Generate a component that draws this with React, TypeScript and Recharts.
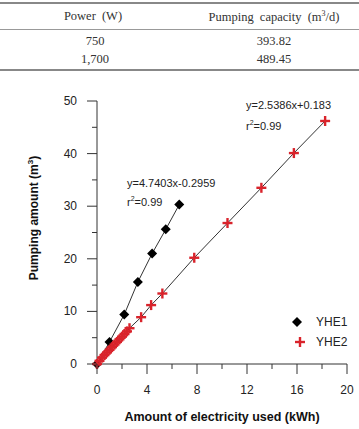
import { ScatterChart, Scatter, XAxis, YAxis } from "recharts";

// measured runs: energy used (kWh) vs pumped volume (m3)
const yhe1Energy = [0, 1.0, 2.18, 3.27, 4.41, 5.5, 6.58];
const yhe1Volume = [0, 4.2, 9.4, 15.6, 21.0, 25.6, 30.3];
const yhe2Energy = [0, 0.2, 0.4, 0.6, 0.8, 1.0, 1.2, 1.4, 1.6, 1.8, 2.0, 2.2, 2.4, 2.6, 3.53, 4.33, 5.23, 7.78, 10.44, 13.15, 15.75, 18.25];
const yhe2Volume = [0, 0.6, 1.2, 1.7, 2.2, 2.7, 3.2, 3.7, 4.2, 4.7, 5.2, 5.7, 6.2, 6.8, 8.9, 11.2, 13.4, 20.2, 26.8, 33.5, 40.1, 46.2];

const xTicks = [0, 2, 4, 6, 8, 10, 12, 14, 16, 18, 20];
const yTicks = [0, 5, 10, 15, 20, 25, 30, 35, 40, 45, 50];

const powerRows = ["750", "1,700"];
const capacityRows = ["393.82", "489.45"];

const yhe1 = yhe1Energy.map((x, i) => ({ x, y: yhe1Volume[i] }));
const yhe2 = yhe2Energy.map((x, i) => ({ x, y: yhe2Volume[i] }));

const SANS = "Arial, 'Liberation Sans', sans-serif";
const SERIF = "'Times New Roman', 'Liberation Serif', serif";
const RED = "#d9232b";
const AXIS = "#333";

const XTick = ({ x, y, payload }: any) => {
  const major = payload.value % 4 === 0;
  return (
    <g>
      <line x1={x} x2={x} y1={y} y2={y + (major ? 10 : 5)} stroke={AXIS} />
      {major && (
        <text x={x} y={y + 30} textAnchor="middle" fontSize={12} fontFamily={SANS} fill="#222">
          {payload.value}
        </text>
      )}
    </g>
  );
};

const YTick = ({ x, y, payload }: any) => {
  const major = payload.value % 10 === 0;
  return (
    <g>
      <line x1={x - (major ? 10 : 5)} x2={x} y1={y} y2={y} stroke={AXIS} />
      {major && (
        <text x={x - 20} y={y + 4} textAnchor="end" fontSize={12} fontFamily={SANS} fill="#222">
          {payload.value}
        </text>
      )}
    </g>
  );
};

const Diamond = ({ cx, cy }: any) => (
  <polygon
    points={`${cx},${cy - 5} ${cx + 5},${cy} ${cx},${cy + 5} ${cx - 5},${cy}`}
    fill="#000"
  />
);

const Plus = ({ cx, cy }: any) => (
  <g stroke={RED} strokeWidth={2.4}>
    <line x1={cx - 5} x2={cx + 5} y1={cy} y2={cy} />
    <line x1={cx} x2={cx} y1={cy - 5} y2={cy + 5} />
  </g>
);

const abs = (left: number, top: number, extra: any = {}) => ({
  position: "absolute" as const,
  left,
  top,
  whiteSpace: "nowrap" as const,
  ...extra,
});

export default function App() {
  return (
    <div style={{ position: "absolute", left: 0, top: 0, width: 359, height: 429, background: "#fff", overflow: "hidden" }}>
      {/* table */}
      <div style={abs(0, 2, { width: 359, height: 2, background: "#888" })} />
      <div style={abs(0, 29, { width: 359, height: 1, background: "#999" })} />
      <div style={abs(0, 69, { width: 359, height: 2, background: "#888" })} />
      <div style={{ fontFamily: SERIF, fontSize: 12.5, color: "#333" }}>
        <div style={abs(0, 9, { width: 186, textAlign: "center", wordSpacing: 3 })}>Power (W)</div>
        <div style={abs(186, 9, { width: 176, textAlign: "center", wordSpacing: 3 })}>
          Pumping capacity (m<sup style={{ fontSize: 8 }}>3</sup>/d)
        </div>
        {powerRows.map((p, i) => (
          <div key={p} style={abs(0, 34 + i * 18, { width: 190, textAlign: "center" })}>{p}</div>
        ))}
        {capacityRows.map((c, i) => (
          <div key={c} style={abs(186, 34 + i * 18, { width: 176, textAlign: "center" })}>{c}</div>
        ))}
      </div>

      <div style={abs(0, 0)}>
        <ScatterChart width={359} height={429} margin={{ top: 101, right: 12, left: 57, bottom: 35 }}>
          <XAxis
            type="number"
            dataKey="x"
            domain={[0, 20]}
            ticks={xTicks}
            interval={0}
            height={30}
            tickSize={0}
            tickMargin={0}
            tickLine={false}
            axisLine={{ stroke: AXIS }}
            tick={<XTick />}
          />
          <YAxis
            type="number"
            dataKey="y"
            domain={[0, 50]}
            ticks={yTicks}
            interval={0}
            width={40}
            tickSize={0}
            tickMargin={0}
            tickLine={false}
            axisLine={{ stroke: AXIS }}
            tick={<YTick />}
          />
          <Scatter
            data={yhe1}
            line={{ stroke: "#333", strokeWidth: 1 }}
            lineType="joint"
            shape={<Diamond />}
            isAnimationActive={false}
          />
          <Scatter
            data={yhe2}
            line={{ stroke: "#333", strokeWidth: 1 }}
            lineType="joint"
            shape={<Plus />}
            isAnimationActive={false}
          />
        </ScatterChart>
      </div>

      {/* fit annotations */}
      <div style={{ fontFamily: SANS, fontSize: 11, color: "#222" }}>
        <div style={abs(127, 177)}>y=4.7403x-0.2959</div>
        <div style={abs(127, 195)}>r<sup style={{ fontSize: 7 }}>2</sup>=0.99</div>
        <div style={abs(246, 99)}>y=2.5386x+0.183</div>
        <div style={abs(246, 119)}>r<sup style={{ fontSize: 7 }}>2</sup>=0.99</div>
      </div>

      {/* legend */}
      <svg style={abs(290, 315)} width={20} height={35}>
        <Diamond cx={7} cy={7} />
        <Plus cx={10} cy={27} />
      </svg>
      <div style={{ fontFamily: SANS, fontSize: 12, color: "#222" }}>
        <div style={abs(316, 315)}>YHE1</div>
        <div style={abs(316, 335)}>YHE2</div>
      </div>

      {/* axis titles */}
      <div style={abs(222, 410, { transform: "translateX(-50%)", fontFamily: SANS, fontSize: 12.5, fontWeight: "bold", color: "#111" })}>
        Amount of electricity used (kWh)
      </div>
      <div
        style={abs(33, 218, {
          transform: "translate(-50%, -50%) rotate(-90deg)",
          fontFamily: SANS,
          fontSize: 12,
          fontWeight: "bold",
          color: "#111",
        })}
      >
        Pumping amount (m<sup style={{ fontSize: 8 }}>3</sup>)
      </div>
    </div>
  );
}
